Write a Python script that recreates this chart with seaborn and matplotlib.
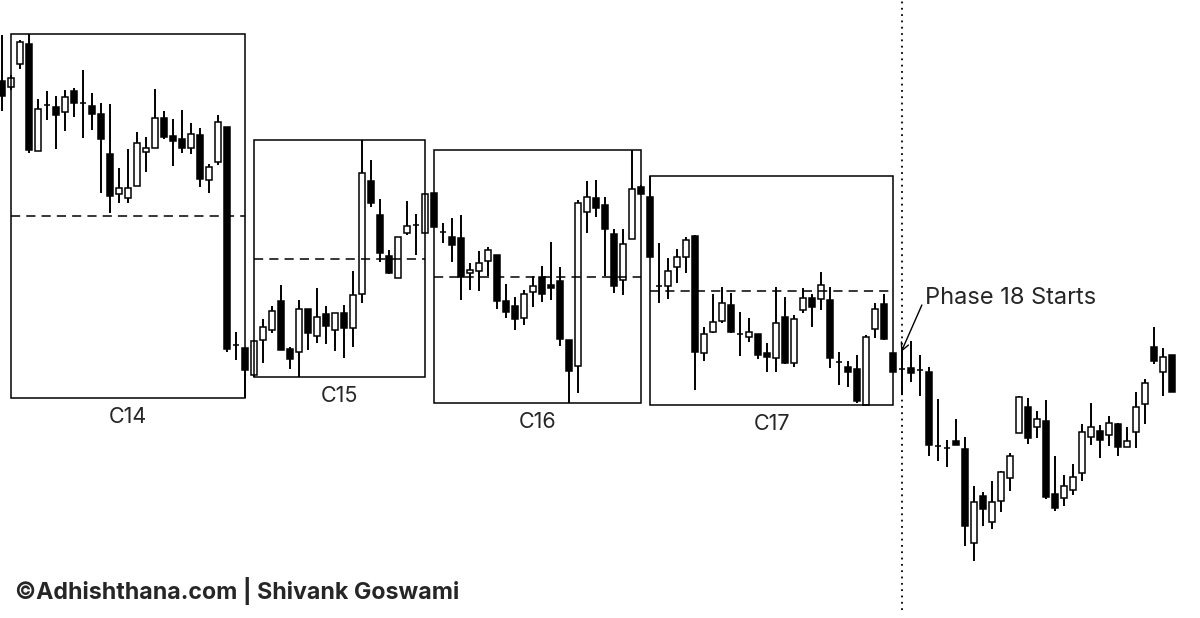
import numpy as np
import pandas as pd
import matplotlib
matplotlib.use("Agg")
import matplotlib.pyplot as plt
import seaborn as sns

# Candle data (arbitrary price units)
opens = [539, 533, 556, 576, 469, 515, 513, 508, 529, 517, 514, 506, 466, 426, 422, 434, 468, 472, 502, 484,
         481, 472, 485, 440, 458, 493, 275, 272, 245, 280, 290, 319, 271, 268, 311, 284, 306, 290, 307, 292,
         326, 439, 405, 364, 342, 387, 395, 387, 427, 388, 383, 382, 347, 349, 359, 365, 319, 314, 302, 328,
         343, 335, 339, 280, 254, 408, 422, 415, 386, 340, 381, 433, 423, 334, 334, 353, 363, 384, 267, 288,
         299, 315, 286, 283, 286, 267, 262, 303, 257, 310, 322, 321, 320, 258, 253, 251, 215, 291, 316, 267,
         251, 252, 250, 248, 174, 172, 179, 171, 77, 124, 98, 119, 142, 187, 213, 193, 199, 126, 122, 130,
         147, 183, 189, 185, 196, 173, 188, 216, 273, 248, 265]
highs = [585, 545, 580, 586, 521, 529, 524, 530, 532, 550, 527, 517, 516, 452, 471, 488, 483, 531, 509, 501,
         510, 497, 492, 456, 505, 493, 288, 272, 280, 301, 314, 335, 273, 320, 311, 332, 314, 307, 315, 349,
         480, 460, 421, 370, 383, 419, 406, 426, 427, 397, 402, 405, 357, 369, 373, 365, 336, 323, 330, 344,
         354, 378, 353, 280, 420, 439, 440, 423, 391, 391, 470, 435, 444, 377, 362, 371, 383, 385, 293, 326,
         333, 327, 308, 302, 286, 277, 333, 323, 305, 332, 326, 348, 333, 268, 259, 265, 285, 317, 326, 267,
         273, 279, 265, 253, 221, 180, 201, 183, 134, 128, 139, 149, 167, 224, 222, 209, 220, 164, 145, 156,
         196, 217, 195, 204, 197, 193, 228, 241, 293, 272, 265]
lows = [509, 530, 551, 467, 469, 500, 471, 489, 503, 482, 490, 427, 407, 417, 417, 434, 448, 472, 481, 454,
        467, 466, 433, 427, 455, 268, 260, 222, 243, 257, 287, 270, 251, 243, 270, 277, 276, 269, 262, 273,
        317, 413, 358, 346, 342, 385, 365, 387, 393, 377, 358, 320, 330, 329, 344, 311, 302, 290, 295, 313,
        318, 320, 274, 217, 227, 387, 403, 344, 327, 325, 381, 426, 363, 317, 321, 337, 347, 230, 259, 287,
        297, 287, 264, 278, 261, 248, 248, 256, 253, 307, 293, 310, 252, 235, 233, 217, 215, 282, 280, 248,
        225, 238, 224, 164, 159, 153, 175, 74, 59, 94, 91, 108, 129, 187, 176, 182, 121, 109, 114, 125,
        139, 175, 162, 174, 164, 173, 172, 196, 256, 224, 228]
closes = [524, 542, 578, 470, 511, 515, 505, 523, 517, 517, 506, 481, 424, 432, 432, 477, 472, 502, 483, 479,
          472, 486, 441, 453, 498, 271, 275, 250, 279, 293, 309, 270, 261, 311, 287, 303, 294, 307, 292, 325,
          447, 417, 367, 347, 383, 394, 395, 426, 393, 388, 375, 343, 350, 357, 370, 319, 308, 301, 326, 334,
          326, 332, 281, 249, 417, 423, 412, 391, 334, 376, 431, 426, 363, 334, 349, 363, 380, 268, 286, 298,
          317, 288, 286, 288, 265, 263, 297, 257, 301, 322, 313, 335, 262, 258, 248, 219, 283, 311, 281, 248,
          251, 247, 250, 175, 174, 172, 175, 94, 118, 111, 118, 148, 164, 223, 182, 201, 123, 112, 134, 143,
          188, 193, 180, 197, 173, 179, 213, 237, 259, 263, 228]

# Cycle boxes: name, first candle, last candle
cycle_names = ["C14", "C15", "C16", "C17"]
cycle_start = [1, 28, 48, 72]
cycle_end = [27, 47, 71, 99]

phase_start = 100
phase_label = "Phase 18 Starts"
credit = "\u00a9Adhishthana.com | Shivank Goswami"

df = pd.DataFrame({"open": opens, "high": highs, "low": lows, "close": closes})
df["idx"] = np.arange(len(df))
df["bull"] = df["close"] >= df["open"]
df["body_lo"] = df[["open", "close"]].min(axis=1)
df["body_h"] = (df["close"] - df["open"]).abs()

sns.set_theme(style="white")
plt.rcParams["font.family"] = ["Inter", "DejaVu Sans"]

fig = plt.figure(figsize=(12, 6.18), dpi=100)
ax = fig.add_axes([0, 0, 1, 1])

# wicks
ax.vlines(df["idx"], df["low"], df["high"], color="black", linewidth=1.4, zorder=2)
# bodies
ax.bar(df["idx"], df["body_h"], bottom=df["body_lo"], width=0.72,
       color=np.where(df["bull"], "white", "black"), edgecolor="black",
       linewidth=1.1, zorder=3)

# cycle boxes with midline
for name, s, e in zip(cycle_names, cycle_start, cycle_end):
    seg = df.iloc[s:e + 1]
    top, bot = seg["high"].max(), seg["low"].min()
    ax.add_patch(plt.Rectangle((s, bot), e - s, top - bot, fill=False,
                               edgecolor="black", linewidth=1.1, zorder=4))
    ax.plot([s, e], [(top + bot) / 2] * 2, color="black", linewidth=1.1,
            linestyle=(0, (6, 4)), zorder=4)
    ax.annotate(name, xy=((s + e) / 2, bot), xytext=(0, -25), textcoords="offset pixels",
                ha="center", va="baseline", fontsize=15.5)

# phase 18 marker
ax.axvline(phase_start, ymin=0.013, color="black", linewidth=1.3, linestyle=(0, (1, 2.5)), zorder=1)
ax.annotate("", xy=(phase_start - 0.1, 268), xytext=(phase_start + 2.2, 315),
            arrowprops=dict(arrowstyle="->", color="black", lw=1.0,
                            mutation_scale=14, shrinkA=0, shrinkB=0))
ax.text(phase_start + 2.55, 316, phase_label, ha="left", va="baseline", fontsize=17)

fig.text(15 / 1200, 1 - 599 / 618, credit, ha="left", va="baseline",
         fontsize=16.7, fontweight="bold")

ax.set_xlim(-0.222, 133.1)
ax.set_ylim(2, 620)
ax.set_xticks([])
ax.set_yticks([])
sns.despine(ax=ax, left=True, bottom=True)

fig.savefig("out.png", dpi=100, facecolor="white")
